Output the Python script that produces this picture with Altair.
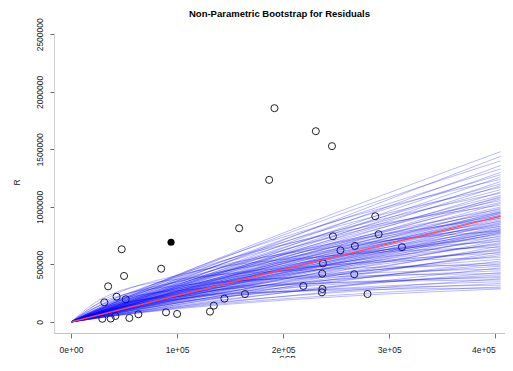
import altair as alt
import pandas as pd

title_text = "Non-Parametric Bootstrap for Residuals"

# observed stock-recruitment points (open circles)
obs_ssb = [29500, 37400, 41800, 55000, 63500, 89600, 100000, 31400, 43000, 51600,
           35000, 50000, 47800, 85000, 131000, 134600, 144600, 164000, 158500, 186800,
           191800, 230800, 246000, 219000, 237000, 236500, 236800, 237500, 246900, 254000,
           267600, 267000, 279500, 286800, 290000, 312000]
obs_rec = [28000, 30000, 52000, 35000, 67000, 84000, 70000, 171000, 220000, 197000,
           310000, 400000, 632000, 463000, 90000, 142000, 203000, 243000, 815000, 1235000,
           1858000, 1658000, 1528000, 313000, 287000, 258000, 420000, 510000, 745000, 623000,
           661000, 415000, 243000, 919000, 763000, 650000]

# highlighted point (filled)
hi_ssb = [94300]
hi_rec = [693000]

# SSB positions at which the curves are read
curve_ssb = [0, 30000, 100000, 250000, 405000]

# fitted curve (red), recruitment at curve_ssb
fit_rec = [0, 70000, 231000, 568000, 919000]

# bootstrap curves: recruitment (thousands) at 30k, 100k, 250k, 405k SSB
boot_curves = [
    [125, 405, 950, 1480], [107, 356, 889, 1440], [123, 396, 924, 1400], [101, 336, 839, 1360],
    [117, 376, 878, 1330], [96, 321, 802, 1300], [112, 362, 845, 1280], [93, 311, 777, 1260],
    [133, 410, 878, 1240], [90, 301, 753, 1220], [105, 340, 792, 1200], [88, 293, 731, 1185],
    [126, 387, 828, 1170], [101, 325, 759, 1150], [84, 279, 697, 1130], [120, 371, 793, 1120],
    [97, 311, 726, 1100], [81, 269, 673, 1090], [95, 306, 713, 1080], [79, 264, 660, 1070],
    [113, 349, 747, 1055], [91, 294, 686, 1040], [76, 254, 636, 1030], [141, 404, 775, 1015],
    [88, 283, 660, 1000], [73, 245, 611, 990], [105, 324, 694, 980], [85, 275, 640, 970],
    [71, 237, 592, 960], [103, 316, 676, 955], [83, 269, 627, 950], [70, 233, 583, 945],
    [83, 266, 620, 940], [69, 230, 574, 930], [99, 306, 655, 925], [80, 259, 604, 915],
    [67, 224, 558, 905], [125, 358, 688, 900], [78, 252, 587, 890], [65, 217, 543, 880],
    [94, 290, 620, 875], [76, 245, 571, 865], [64, 212, 531, 860], [91, 281, 602, 850],
    [74, 239, 558, 845], [62, 206, 515, 835], [115, 330, 634, 830], [72, 232, 541, 820],
    [60, 201, 503, 815], [87, 266, 570, 805], [70, 226, 528, 800], [59, 196, 491, 795],
    [154, 393, 656, 790], [69, 222, 518, 785], [84, 258, 552, 780], [57, 191, 478, 775],
    [68, 218, 508, 770], [82, 252, 538, 760], [56, 185, 463, 750], [103, 295, 565, 740],
    [64, 207, 482, 730], [77, 238, 510, 720], [53, 175, 438, 710], [137, 349, 581, 700],
    [61, 195, 455, 690], [73, 225, 481, 680], [93, 267, 512, 670], [49, 163, 407, 660],
    [187, 405, 579, 650], [56, 181, 422, 640], [68, 209, 446, 630], [86, 247, 474, 620],
    [45, 151, 376, 610], [117, 299, 498, 600], [52, 167, 389, 590], [62, 190, 407, 575],
    [161, 349, 499, 560], [76, 217, 416, 545], [47, 150, 350, 530], [100, 256, 427, 515],
    [54, 167, 358, 505], [208, 371, 463, 495], [67, 193, 371, 485], [41, 133, 310, 470],
    [132, 287, 410, 460], [87, 222, 369, 445], [46, 142, 304, 430], [177, 315, 393, 420],
    [57, 163, 313, 410], [77, 197, 328, 395], [111, 240, 343, 385], [40, 124, 266, 375],
    [154, 273, 342, 365], [68, 174, 291, 350], [47, 133, 256, 335], [92, 199, 285, 320],
    [42, 121, 233, 305], [124, 221, 276, 295], [40, 114, 219, 287],
]

x_ticks = [0, 100000, 200000, 300000, 400000]
y_ticks = [0, 500000, 1000000, 1500000, 2000000, 2500000]

FONT = "Liberation Sans"

obs_df = pd.DataFrame({"SSB": obs_ssb, "R": obs_rec})
hi_df = pd.DataFrame({"SSB": hi_ssb, "R": hi_rec})
fit_df = pd.DataFrame({"SSB": curve_ssb, "R": fit_rec})
rows = []
for i, vals in enumerate(boot_curves):
    full = [0] + [v * 1000 for v in vals]
    for s, r in zip(curve_ssb, full):
        rows.append({"id": i, "SSB": s, "R": r})
boot_df = pd.DataFrame(rows)

x_scale = alt.Scale(domain=[-16038, 409125], nice=False, zero=False)
y_scale = alt.Scale(domain=[-95586, 2511300], nice=False, zero=False)

x_axis = alt.Axis(
    values=x_ticks, grid=False, title="SSB",
    labelExpr="datum.value == 0 ? '0e+00' : format(datum.value / 100000, 'd') + 'e+05'",
    labelFont=FONT, labelFontSize=8.5, labelColor="#222", labelPadding=7,
    labelFlush=12, labelOverlap=False, labelBaseline="top",
    tickSize=5, tickColor="#777", domainColor="#c4c4c4", domainWidth=1,
    titleFont=FONT, titleFontSize=8.5, titleFontWeight="normal", titleColor="#222",
    titleX=233, titleY=28, titleBaseline="alphabetic", titleAlign="center",
)
y_axis = alt.Axis(
    values=y_ticks, grid=False, title="R", format="d",
    labelAngle=270, labelAlign="center", labelBaseline="alphabetic",
    labelFont=FONT, labelFontSize=8.5, labelColor="#222", labelPadding=8,
    labelFlush=False, labelOverlap=False,
    tickSize=4, tickColor="#666", domainColor="#d0d0d0", domainWidth=1,
    titleFont=FONT, titleFontSize=8.5, titleFontWeight="normal", titleColor="#222",
    titleAngle=270, titleX=-35, titleY=149, titleBaseline="alphabetic", titleAlign="center",
)

pts = alt.Chart(obs_df).mark_point(
    shape="circle", filled=False, size=50, stroke="#222", strokeWidth=1, opacity=1
).encode(
    x=alt.X("SSB:Q", scale=x_scale, axis=x_axis),
    y=alt.Y("R:Q", scale=y_scale, axis=y_axis),
)

hi = alt.Chart(hi_df).mark_point(
    shape="circle", filled=True, size=50, color="black", opacity=1
).encode(x="SSB:Q", y="R:Q")

boot = alt.Chart(boot_df).mark_line(
    color="#0000ff", strokeWidth=1, opacity=0.27, interpolate="monotone"
).encode(x="SSB:Q", y="R:Q", detail="id:N", order="SSB:Q")

fit = alt.Chart(fit_df).mark_line(
    color="#ff4a4a", strokeWidth=1.5, opacity=0.95, interpolate="monotone"
).encode(x="SSB:Q", y="R:Q")

chart = alt.layer(pts, hi, boot, fit).properties(
    width=451, height=300,
    title=alt.TitleParams(title_text, font=FONT, fontSize=9.5, fontWeight="bold",
                          color="black", anchor="middle", offset=-1),
    autosize=alt.AutoSizeParams(type="none"),
    padding={"left": 46, "top": 25, "right": 0, "bottom": 25},
).configure_view(stroke=None)

chart.save("out.html", embed_options={"renderer": "svg", "actions": False})
